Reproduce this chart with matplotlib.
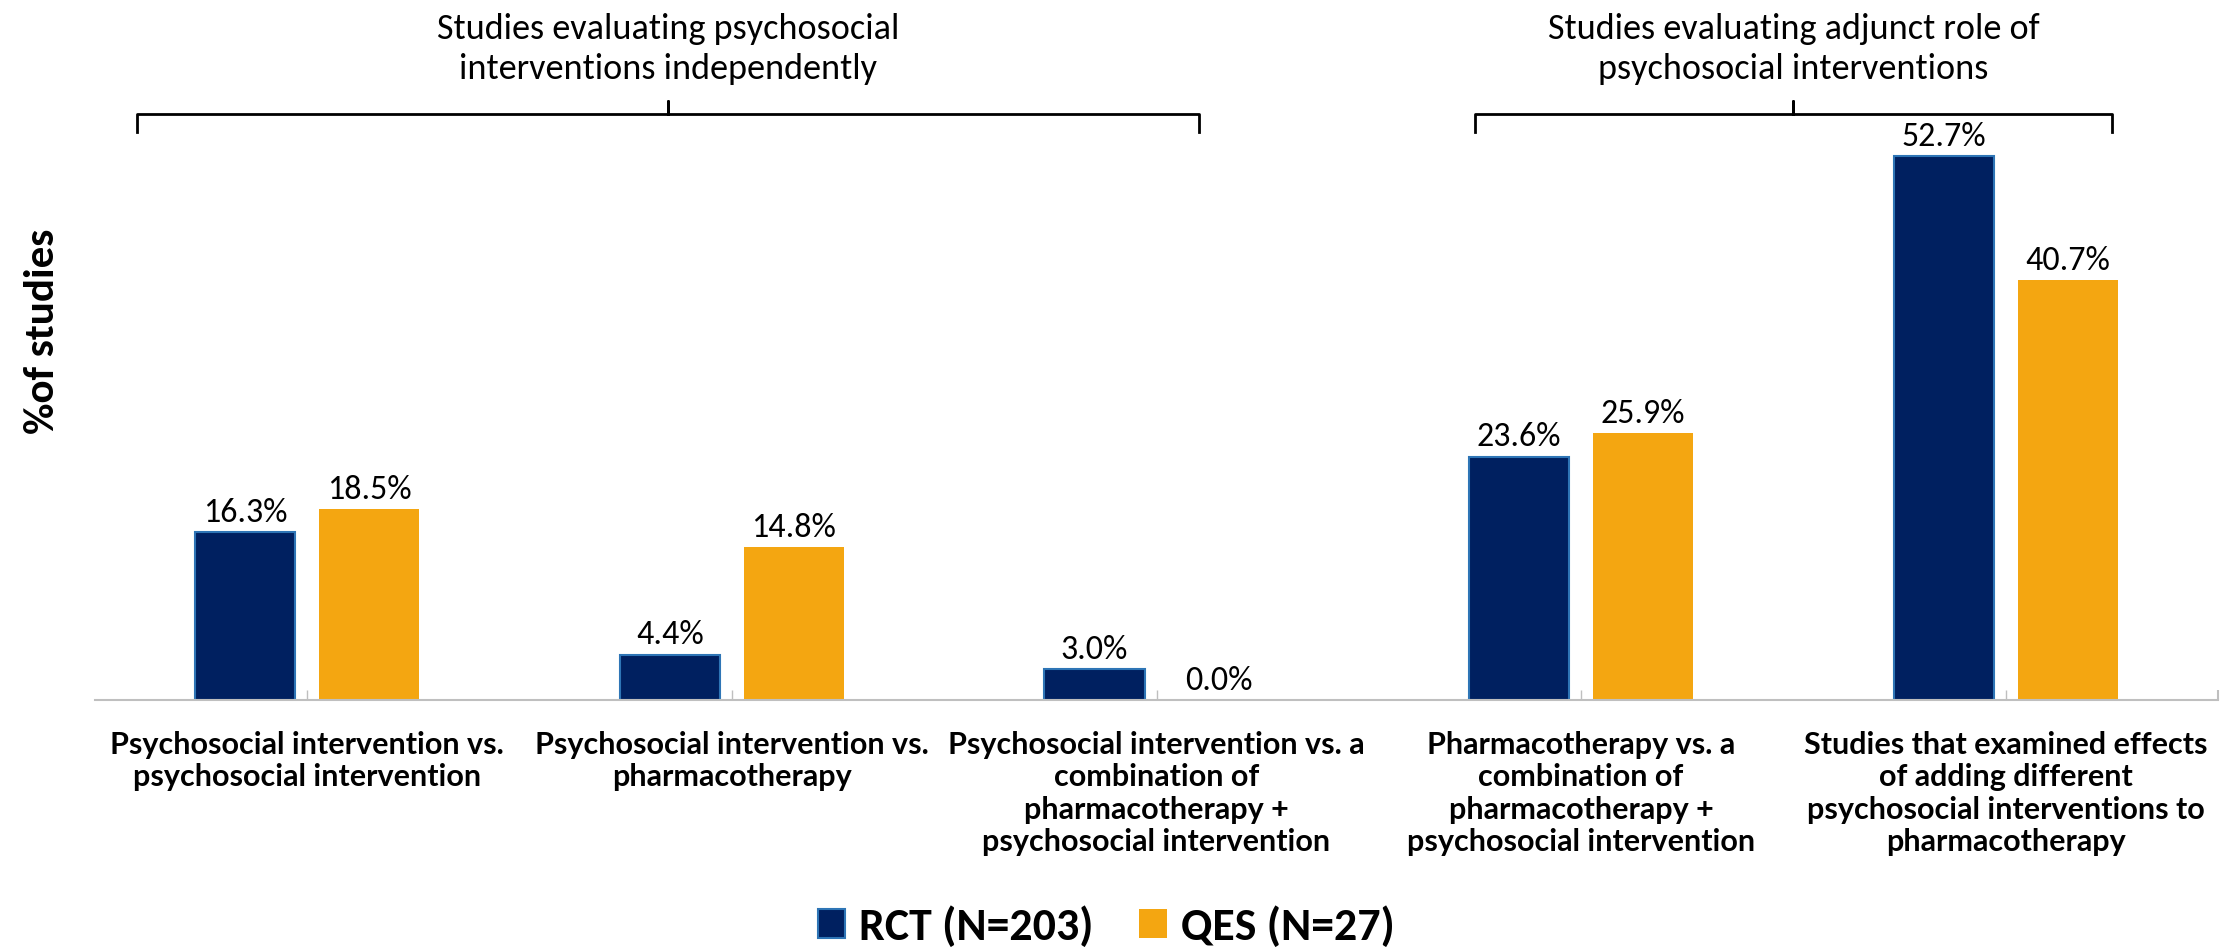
import matplotlib
matplotlib.use("Agg")
import matplotlib.pyplot as plt
import numpy as np

# data
categories = [
    "Psychosocial intervention vs.\npsychosocial intervention",
    "Psychosocial intervention vs.\npharmacotherapy",
    "Psychosocial intervention vs. a\ncombination of\npharmacotherapy +\npsychosocial intervention",
    "Pharmacotherapy vs. a\ncombination of\npharmacotherapy +\npsychosocial intervention",
    "Studies that examined effects\nof adding different\npsychosocial interventions to\npharmacotherapy",
]
rct_pct = [16.3, 4.4, 3.0, 23.6, 52.7]
qes_pct = [18.5, 14.8, 0.0, 25.9, 40.7]
series_names = ["RCT (N=203)", "QES (N=27)"]

group_titles = ["Studies evaluating psychosocial\ninterventions independently",
                "Studies evaluating adjunct role of\npsychosocial interventions"]
# bracket spans in category units (left, right, centre)
group_spans = [(-0.40, 2.10, 0.85), (2.75, 4.25, 3.50)]

navy = "#002060"
navy_edge = "#2E75B6"
gold = "#F4A611"
axis_grey = "#BFBFBF"

soft_font = ["Carlito", "Lato", "DejaVu Sans"]
narrow_font = ["Liberation Sans Narrow", "Lato", "DejaVu Sans"]

fig = plt.figure(figsize=(22.39, 9.49), dpi=100)
# baseline at 700px, 10.32 px per percent
ax = fig.add_axes((95 / 2239, (949 - 700) / 949, (2218 - 95) / 2239, 619 / 949))

x = np.arange(len(categories))
w = 0.236
off = 0.146
b1 = ax.bar(x - off, rct_pct, w, color=navy, edgecolor=navy_edge, linewidth=1.5,
            label=series_names[0])
b2 = ax.bar(x + off, qes_pct, w, color=gold, edgecolor=gold, linewidth=0,
            label=series_names[1])

for bars in (b1, b2):
    ax.bar_label(bars, labels=[f"{v:.1f}%" for v in bars.datavalues], padding=3,
                 fontsize=24.5, family=soft_font, color="black")

ax.set_xlim(-0.5, len(categories) - 0.5)
ax.set_ylim(0, 60)

for s in ["top", "right", "left"]:
    ax.spines[s].set_visible(False)
ax.spines["bottom"].set_color(axis_grey)
ax.spines["bottom"].set_linewidth(1.5)
ax.set_yticks([])

ax.set_xticks(x)
ax.set_xticklabels(categories, fontsize=22, fontweight="bold", family=narrow_font,
                   linespacing=1.2, va="top")
ax.tick_params(axis="x", direction="in", length=7, width=1, color=axis_grey, pad=22)
ax.set_xticks([len(categories) - 0.5], minor=True)
ax.tick_params(axis="x", which="minor", direction="in", length=7, width=1.5, color=axis_grey)

ax.set_ylabel("%of studies", fontsize=31, fontweight="bold", family=soft_font, labelpad=0)
ax.yaxis.set_label_coords(-0.016, 0.596)

# group brackets and titles
for (lo, hi, mid), title in zip(group_spans, group_titles):
    ax.plot([lo, lo, mid, mid, mid, hi, hi], [55.1, 56.8, 56.8, 58.1, 56.8, 56.8, 55.1],
            color="black", lw=2, clip_on=False, solid_joinstyle="round")
    ax.text(mid, 63.1, title, ha="center", va="center", fontsize=26, family=soft_font,
            linespacing=1.33, clip_on=False)

fig.legend(handles=[b1, b2], loc="center", bbox_to_anchor=(0.494, 0.024), ncol=2,
           frameon=False, prop={"family": soft_font, "weight": "bold", "size": 33},
           handlelength=0.6, handleheight=0.6, handletextpad=0.3, columnspacing=1.0)

fig.savefig("out.png", dpi=100)
